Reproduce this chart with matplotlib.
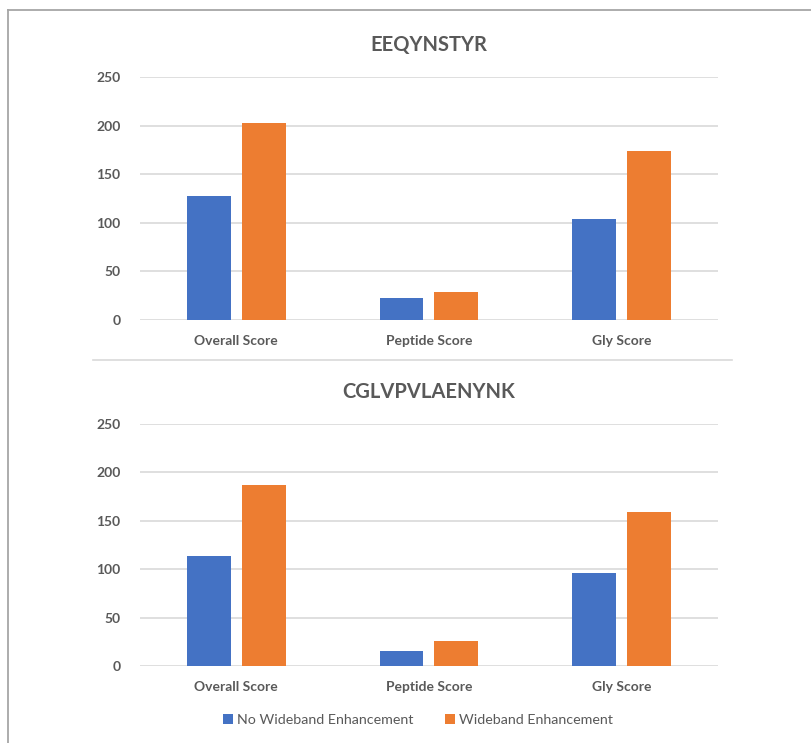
import numpy as np
import matplotlib.pyplot as plt
from matplotlib.lines import Line2D

# Scores per peptide, with and without wideband enhancement
categories = ["Overall Score", "Peptide Score", "Gly Score"]
series_names = ["No Wideband Enhancement", "Wideband Enhancement"]
eeqynstyr_no_wb = [128, 23, 104]
eeqynstyr_wb = [203, 29, 174]
cglvp_no_wb = [113.5, 16, 96]
cglvp_wb = [187, 26, 159]
yticks = [0, 50, 100, 150, 200, 250]

BLUE = "#4472c4"
ORANGE = "#ed7d31"
TEXT = "#595959"
GRID = "#d9d9d9"

plt.rcParams["font.family"] = ["Lato", "DejaVu Sans"]

fig = plt.figure(figsize=(8.12, 7.43), dpi=100)
fig.patch.set_facecolor("white")


def draw_panel(ax, title, no_wb, wb):
    x = np.arange(len(categories))
    w = 0.228
    off = 0.1425
    ax.bar(x - off, no_wb, width=w, color=BLUE, label=series_names[0], zorder=3)
    ax.bar(x + off, wb, width=w, color=ORANGE, label=series_names[1], zorder=3)
    ax.set_xlim(-0.5, len(categories) - 0.5)
    ax.set_ylim(0, 250)
    ax.set_yticks(yticks)
    ax.set_xticks(x)
    ax.set_xticklabels(categories)
    ax.grid(axis="y", color=GRID, linewidth=1.2, zorder=0)
    for s in ax.spines.values():
        s.set_visible(False)
    ax.tick_params(length=0, colors=TEXT, labelsize=10)
    ax.tick_params(axis="y", pad=14)
    ax.tick_params(axis="x", pad=11)
    for lab in ax.get_xticklabels() + ax.get_yticklabels():
        lab.set_fontweight("bold")
    ax.set_title(title, color=TEXT, fontsize=14.5, fontweight="bold", pad=19)


ax_top = fig.add_axes([0.1724, 0.5693, 0.7118, 0.3271])
draw_panel(ax_top, "EEQYNSTYR", eeqynstyr_no_wb, eeqynstyr_wb)

ax_bot = fig.add_axes([0.1724, 0.1036, 0.7118, 0.3257])
draw_panel(ax_bot, "CGLVPVLAENYNK", cglvp_no_wb, cglvp_wb)

handles, labels = ax_bot.get_legend_handles_labels()
fig.legend(handles, labels, loc="center", bbox_to_anchor=(418 / 812, 1 - 720 / 743),
           ncol=2, frameon=False, fontsize=10.3, handlelength=0.7, handleheight=0.7,
           handletextpad=0.3, columnspacing=2.2, labelcolor=TEXT)

# outer frame (left and top edges) and the divider between panels
fig.add_artist(Line2D([8 / 812, 8 / 812], [0, 1 - 10 / 743], color="#a6a6a6", linewidth=1.3))
fig.add_artist(Line2D([8 / 812, 1], [1 - 10 / 743, 1 - 10 / 743], color="#a6a6a6", linewidth=1.3))
fig.add_artist(Line2D([93 / 812, 732 / 812], [1 - 360 / 743, 1 - 360 / 743], color=GRID, linewidth=1.2))

fig.savefig("out.png", dpi=100)
